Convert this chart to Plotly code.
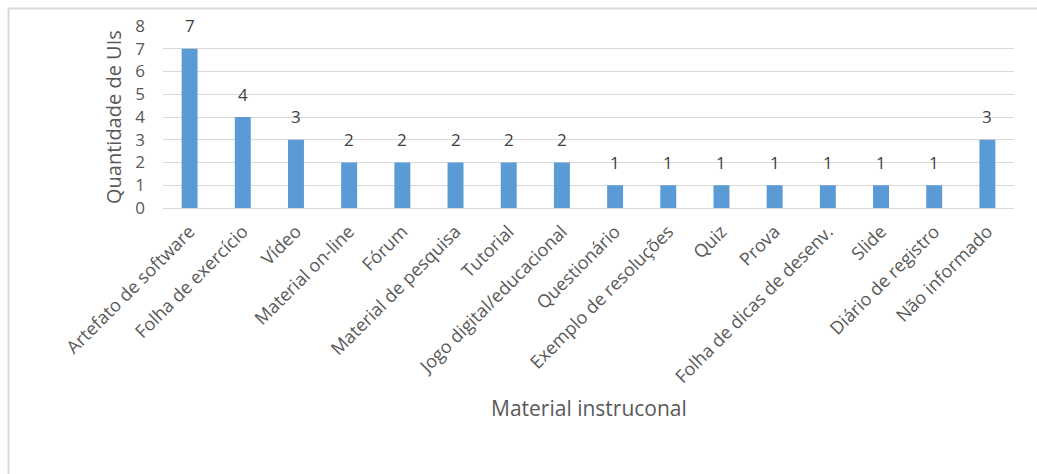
import plotly.graph_objects as go

categories = [
    "Artefato de software", "Folha de exercício", "Vídeo", "Material on-line",
    "Fórum", "Material de pesquisa", "Tutorial", "Jogo digital/educacional",
    "Questionário", "Exemplo de resoluções", "Quiz", "Prova",
    "Folha de dicas de desenv.", "Slide", "Diário de registro", "Não informado",
]
counts = [7, 4, 3, 2, 2, 2, 2, 2, 1, 1, 1, 1, 1, 1, 1, 3]
y_ticks = [0, 1, 2, 3, 4, 5, 6, 7, 8]

W, H = 1037, 474
L, R, T, B = 163, 23, 26, 266
pw, ph = W - L - R, H - T - B

def px_x(x):
    return (x - L) / pw

def px_y(y):
    return (H - B - y) / ph

FONT = "Open Sans"
TXT = "#595959"
GRID = "#d9d9d9"

fig = go.Figure(go.Bar(
    x=categories, y=counts,
    marker=dict(color="#5b9bd5", line=dict(width=0)),
    hoverinfo="x+y",
))

annotations = [
    dict(x=c, y=v, xref="x", yref="y", text=str(v), showarrow=False,
         yshift=23, font=dict(family=FONT, size=17, color="#404040"))
    for c, v in zip(categories, counts)
]
annotations += [
    dict(x=0.5, y=px_y(408), xref="paper", yref="paper", text="Material instruconal",
         showarrow=False, xanchor="center", yanchor="middle",
         font=dict(family=FONT, size=21, color=TXT)),
    dict(x=px_x(113), y=px_y(117), xref="paper", yref="paper", text="Quantidade de UIs",
         showarrow=False, xanchor="center", yanchor="middle", textangle=-90,
         font=dict(family=FONT, size=20, color=TXT)),
]

shapes = [
    dict(type="line", xref="paper", yref="paper",
         x0=px_x(8.5), x1=px_x(8.5), y0=px_y(8), y1=px_y(H),
         line=dict(color=GRID, width=2)),
    dict(type="line", xref="paper", yref="paper",
         x0=px_x(8), x1=px_x(W), y0=px_y(8.5), y1=px_y(8.5),
         line=dict(color=GRID, width=2)),
]

fig.update_layout(
    width=W, height=H,
    margin=dict(l=L, r=R, t=T, b=B, autoexpand=False),
    paper_bgcolor="white", plot_bgcolor="white",
    bargap=0.7,
    showlegend=False,
    annotations=annotations,
    shapes=shapes,
    font=dict(family=FONT, color=TXT),
)
fig.update_xaxes(
    tickangle=-45, tickfont=dict(family=FONT, size=18, color=TXT),
    showgrid=False, showline=True, linecolor=GRID, linewidth=1,
    ticks="", automargin=False, ticklabelstandoff=5,
)
fig.update_yaxes(
    range=[0, 8], tickvals=y_ticks, tickfont=dict(family=FONT, size=17, color=TXT),
    showgrid=True, gridcolor=GRID, gridwidth=1, zeroline=False,
    showline=False, ticks="", automargin=False, ticklabelstandoff=17,
)

fig.write_html("out.html")
